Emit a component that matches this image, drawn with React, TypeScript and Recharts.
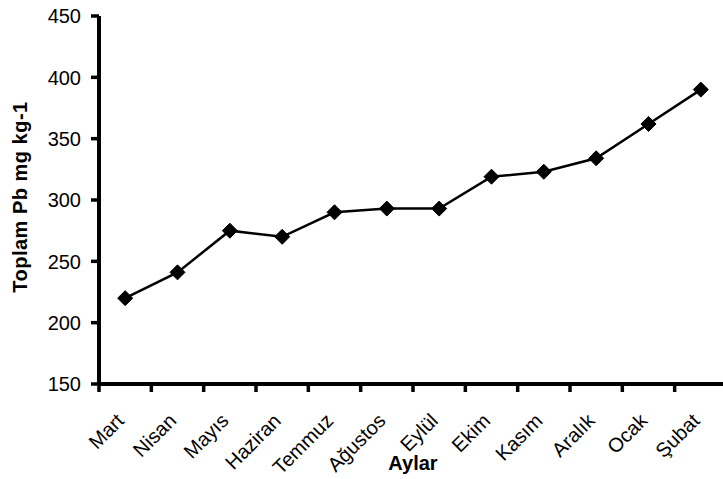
import { LineChart, Line, XAxis, YAxis } from 'recharts';

const months = ['Mart', 'Nisan', 'Mayıs', 'Haziran', 'Temmuz', 'Ağustos', 'Eylül', 'Ekim', 'Kasım', 'Aralık', 'Ocak', 'Şubat'];
const pbValues = [220, 241, 275, 270, 290, 293, 293, 319, 323, 334, 362, 390];
const yTicks = [150, 200, 250, 300, 350, 400, 450];

// category slots: boundaries at integers (tick marks), labels at .5
const xTicks = Array.from({ length: 25 }, (_, i) => i / 2);

const data = months.map((m, i) => ({ x: i + 0.5, month: m, pb: pbValues[i] }));

const FONT = 'Arial, "Liberation Sans", sans-serif';

function XTick(props: any) {
  const { x, y, payload } = props;
  const v = payload.value as number;
  if (Number.isInteger(v)) {
    return <line x1={x} y1={y} x2={x} y2={y + 8} stroke="#000" strokeWidth={3.5} />;
  }
  const px = x;
  const py = y + 38;
  return (
    <text
      x={px}
      y={py}
      transform={`rotate(-45, ${px}, ${py})`}
      textAnchor="end"
      fontSize={20}
      fontFamily={FONT}
      fill="#000"
    >
      {months[Math.floor(v)]}
    </text>
  );
}

function YTick(props: any) {
  const { x, y, payload } = props;
  return (
    <text x={x} y={y} dy="0.36em" textAnchor="end" fontSize={20} fontFamily={FONT} fill="#000">
      {payload.value}
    </text>
  );
}

function Diamond(props: any) {
  const { cx, cy, index } = props;
  const r = 7.5;
  return (
    <path
      key={`d-${index}`}
      d={`M${cx},${cy - r} L${cx + r},${cy} L${cx},${cy + r} L${cx - r},${cy} Z`}
      fill="#000"
      stroke="#000"
    />
  );
}

export default function App() {
  return (
    <div style={{ position: 'absolute', left: 0, top: 0, width: 723, height: 479, overflow: 'hidden', background: '#fff' }}>
      <LineChart width={731} height={479} data={data} margin={{ top: 16, right: 4, left: 0, bottom: 0 }}>
        <XAxis
          dataKey="x"
          type="number"
          domain={[0, 12]}
          ticks={xTicks}
          interval={0}
          tickSize={0}
          tickMargin={0}
          tickLine={false}
          tick={<XTick />}
          height={95}
          axisLine={{ stroke: '#000', strokeWidth: 4 }}
          label={{
            content: (p: any) => {
              const vb = p.viewBox;
              return (
                <text
                  x={vb.x + vb.width / 2}
                  y={470}
                  textAnchor="middle"
                  fontSize={20}
                  fontWeight="bold"
                  fontFamily={FONT}
                  fill="#000"
                >
                  Aylar
                </text>
              );
            },
          }}
        />
        <YAxis
          type="number"
          domain={[150, 450]}
          ticks={yTicks}
          interval={0}
          width={99}
          tickSize={8}
          tickMargin={10}
          tickLine={{ stroke: '#000', strokeWidth: 3.5 }}
          axisLine={{ stroke: '#000', strokeWidth: 4 }}
          tick={<YTick />}
          label={{
            content: (p: any) => {
              const vb = p.viewBox;
              const cy = vb.y + vb.height / 2 - 3;
              return (
                <text
                  x={27}
                  y={cy}
                  transform={`rotate(-90, 27, ${cy})`}
                  textAnchor="middle"
                  fontSize={20}
                  fontWeight="bold"
                  fontFamily={FONT}
                  letterSpacing={0.5}
                  fill="#000"
                >
                  Toplam Pb mg kg-1
                </text>
              );
            },
          }}
        />
        <Line
          type="linear"
          dataKey="pb"
          stroke="#000"
          strokeWidth={2.5}
          dot={Diamond}
          activeDot={false}
          isAnimationActive={false}
        />
      </LineChart>
    </div>
  );
}
